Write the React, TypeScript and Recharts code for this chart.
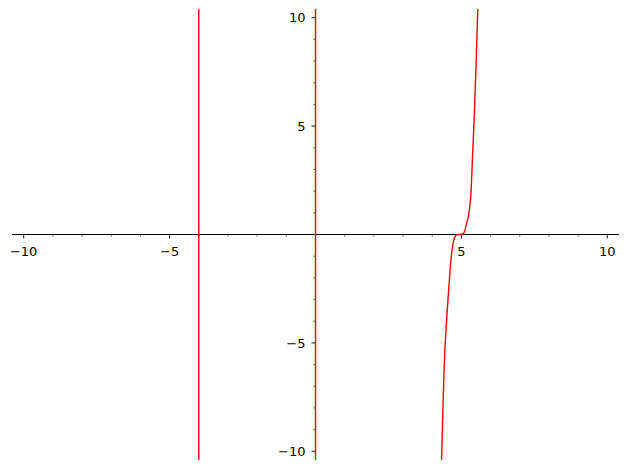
import React from 'react'
import { LineChart, Line, XAxis, YAxis, ReferenceLine, ReferenceDot } from 'recharts'

// ── Data ──────────────────────────────────────────────────────────────────────

const X_DOMAIN: [number, number] = [-10.4, 10.4]
const Y_DOMAIN: [number, number] = [-10.4, 10.4]

// near-vertical jumps at the poles
const poleA = [
  { x: -4, y: -10.4 },
  { x: -4, y: 10.4 },
]
const poleB = [
  { x: 0, y: 10.4 },
  { x: 0, y: -10.4 },
]

// branch crossing zero around x = 5
const curveX = [4.32, 4.36, 4.41, 4.5, 4.58, 4.64, 4.68, 4.72, 4.78, 4.84, 4.92, 5.0, 5.07, 5.12, 5.18, 5.24, 5.27, 5.32, 5.39, 5.44, 5.5, 5.56]
const curveY = [-10.4, -8.4, -6.1, -3.8, -2.25, -1.19, -0.72, -0.35, -0.1, -0.02, 0, 0.01, 0.05, 0.2, 0.51, 0.85, 1.12, 1.75, 3.89, 5.42, 7.73, 10.4]
const curve = curveX.map((x, i) => ({ x, y: curveY[i] }))

const xMajor = [-10, -5, 5, 10]
const xLabels = ['\u221210', '\u22125', '5', '10']
const yMajor = [-10, -5, 5, 10]
const yLabels = ['\u221210', '\u22125', '5', '10']
const minorTicks = [-9, -8, -7, -6, -4, -3, -2, -1, 1, 2, 3, 4, 6, 7, 8, 9]

// ── Styles ────────────────────────────────────────────────────────────────────

const FONT = '"DejaVu Sans", sans-serif'
const FONT_SIZE = 13
const RED = '#ff0000'

function xTick(major: boolean, label?: string) {
  return (props: any) => {
    const { cx, cy } = props
    return (
      <g>
        <line x1={cx} y1={cy} x2={cx} y2={cy + (major ? 4 : 2)} stroke="#000" strokeWidth={major ? 0.9 : 0.7} />
        {label && (
          <text x={cx} y={cy + 21} textAnchor="middle" fontSize={FONT_SIZE} fontFamily={FONT} fill="#000">
            {label}
          </text>
        )}
      </g>
    )
  }
}

function yTick(major: boolean, label?: string) {
  return (props: any) => {
    const { cx, cy } = props
    return (
      <g>
        <line x1={cx - (major ? 4 : 2)} y1={cy} x2={cx} y2={cy} stroke="#000" strokeWidth={major ? 0.9 : 0.7} />
        {label && (
          <text x={cx - 10} y={cy + 4.7} textAnchor="end" fontSize={FONT_SIZE} fontFamily={FONT} fill="#000">
            {label}
          </text>
        )}
      </g>
    )
  }
}

// ── Component ─────────────────────────────────────────────────────────────────

export default function App() {
  return (
    <div style={{ position: 'absolute', left: 0, top: 0, width: 627, height: 468, background: '#fff' }}>
      <LineChart width={627} height={468} margin={{ top: 9, right: 8, bottom: 8, left: 12 }}>
        <XAxis type="number" dataKey="x" domain={X_DOMAIN} allowDataOverflow hide />
        <YAxis type="number" dataKey="y" domain={Y_DOMAIN} allowDataOverflow hide />

        <ReferenceLine y={0} stroke="#000" strokeWidth={1} />
        <ReferenceLine x={0} stroke="#000" strokeWidth={1} />

        {minorTicks.map((v) => (
          <ReferenceDot key={'xm' + v} x={v} y={0} shape={xTick(false)} />
        ))}
        {xMajor.map((v, i) => (
          <ReferenceDot key={'xM' + v} x={v} y={0} shape={xTick(true, xLabels[i])} />
        ))}
        {minorTicks.map((v) => (
          <ReferenceDot key={'ym' + v} x={0} y={v} shape={yTick(false)} />
        ))}
        {yMajor.map((v, i) => (
          <ReferenceDot key={'yM' + v} x={0} y={v} shape={yTick(true, yLabels[i])} />
        ))}

        <Line data={poleA} dataKey="y" stroke={RED} strokeWidth={1.4} dot={false} isAnimationActive={false} />
        <Line data={poleB} dataKey="y" stroke={RED} strokeWidth={1.4} dot={false} isAnimationActive={false} />
        <Line data={curve} dataKey="y" type="monotone" stroke={RED} strokeWidth={1.4} dot={false} isAnimationActive={false} />
      </LineChart>
    </div>
  )
}
